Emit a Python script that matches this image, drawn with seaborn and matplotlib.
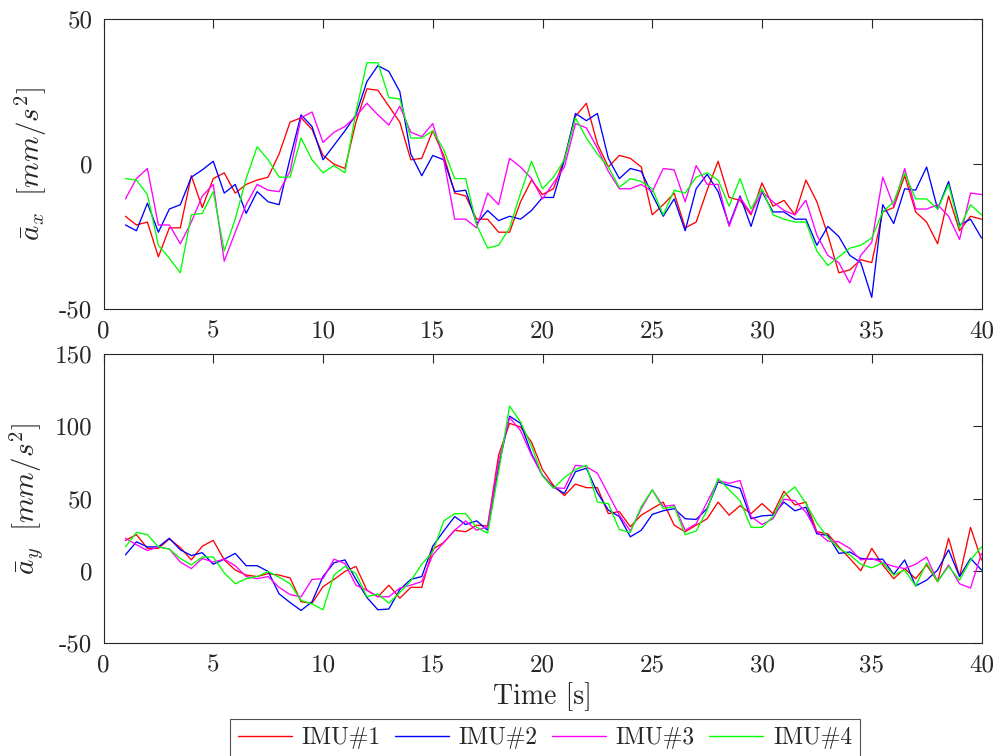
import numpy as np
import pandas as pd
import matplotlib
matplotlib.use("Agg")
import matplotlib.pyplot as plt
from matplotlib.lines import Line2D
import seaborn as sns

# ---------------- data ----------------
time_s = np.arange(1.0, 40.01, 0.5)
imu_names = ["IMU#1", "IMU#2", "IMU#3", "IMU#4"]

ax_imu1 = [-18, -21, -20, -32, -22, -22, -4, -15, -5, -3,
           -10, -7, -5.5, -4.5, 3.5, 14.5, 16, 12, 3, 0,
           -1.5, 14.5, 26, 25.5, 20, 14.5, 1.5, 2, 11.5, 3,
           -10, -11, -19, -19, -23.5, -23.5, -13, -5.5, -10.5, -8.5,
           2, 16.5, 21, 7, -1, 3, 2, -1, -17.5, -14,
           -10, -22, -20, -9, 1, -11.5, -12.5, -17.5, -6.5, -14.5,
           -12.5, -17.5, -5.5, -13, -24.5, -37.5, -36.5, -33, -34, -16.5,
           -15, -4, -16.5, -20, -27.5, -11, -23, -18, -19]
ax_imu2 = [-21, -23, -13.5, -23.5, -15.5, -14, -4.5, -2, 1, -10,
           -7, -17, -9.5, -13, -14, 2, 17, 13, 1.5, 6.5,
           11.5, 17, 28.5, 34, 32, 25, 3.5, -4, 3, 1.5,
           -9.5, -9, -20.5, -16, -19.5, -18, -19, -16, -11.5, -11.5,
           1.5, 17.5, 15, 17.5, 2, -5, -1.5, -2.5, -10.5, -18,
           -12, -23, -8.5, -3.5, -9.5, -21, -11, -21.5, -9.5, -16.5,
           -16.5, -19, -19, -28, -21.5, -25, -31.5, -34, -46, -14,
           -20.5, -8.5, -9, -1, -15.5, -6, -21, -19, -25.5]
ax_imu3 = [-12, -5, -1.5, -21, -21, -27.5, -20, -11, -7, -33.5,
           -23.5, -14, -7, -9, -9.5, -2.5, 16, 18, 7.5, 11,
           13, 16.5, 21, 17, 13.5, 20, 11, 9.5, 14, 1.5,
           -19, -19, -22, -10, -14, 2, -1, -5, -12, -6.5,
           -1, 14, 12.5, 5.5, -2.5, -8.5, -8.5, -7, -9.5, -1.5,
           -2, -13, -0.5, -7, -7, -21.5, -11.5, -17, -9.5, -13,
           -16, -17.5, -12.5, -24.5, -31.5, -34, -41, -31.5, -27, -4.5,
           -14.5, -1.5, -15.5, -15.5, -14, -18, -26, -10, -10.5]
ax_imu4 = [-5, -5.5, -10.5, -28, -32.5, -37.5, -17.5, -17, -9.5, -30,
           -19, -5, 6, 1.5, -4.5, -4.5, 9, 1.5, -3, -0.5,
           -3, 18, 35, 35, 23, 22.5, 9, 9, 11.5, 5,
           -5, -5, -21, -29, -28, -22, -10, 1, -8.5, -4.5,
           1.5, 16, 9, 3.5, -1, -8, -5, -6, -8.5, -17.5,
           -9, -10, -4.5, -3, -5.5, -14.5, -5, -15.5, -8.5, -17.5,
           -19, -20, -20, -30, -35, -32, -29, -28, -25.5, -16.5,
           -13, -3, -12, -12, -15.5, -7, -22, -14, -17.5]

ay_imu1 = [21, 25, 15.5, 15.5, 22, 16, 7.5, 17, 21, 7.5,
           0.5, -3, -4, -2, -3, -5, -21.5, -22.5, -11, -6,
           -0.5, 3, -13.5, -18, -10, -19, -11.5, -11.5, 15, 19.5,
           28, 27, 31.5, 31, 80, 102, 99.5, 89, 70, 59,
           52, 60, 57.5, 57.5, 39.5, 41, 30.5, 38.5, 43, 47.5,
           31.5, 27, 31.5, 36, 47.5, 38.5, 45, 39.5, 46.5, 39.5,
           55, 45.5, 47.5, 27, 25.5, 16.5, 8.5, 0, 15.5, 4,
           -5.5, 1.5, -5.5, 4, -7.5, 22.5, -4, 30, 7.5]
ay_imu2 = [11, 20, 16.5, 16.5, 22.5, 14.5, 10.5, 12.5, 4.5, 8,
           12, 3.5, 3.5, -0.5, -16, -22, -27.5, -21.5, -4, 5.5,
           7.5, -6, -18.5, -27, -26.5, -13, -6, -4, 17, 27.5,
           37.5, 32, 34.5, 28, 72, 107, 102, 81, 66, 58,
           53.5, 68.5, 71, 54, 42, 37.5, 23.5, 28, 39, 41.5,
           43, 36, 35.5, 43, 61.5, 59, 57, 36, 38, 38.5,
           47.5, 41.5, 44, 25.5, 24.5, 12, 13, 8.5, 8, 8,
           -2.5, 7.5, -10.5, -6.5, 0.5, 14.5, -4, 8.5, 0.5]
ay_imu3 = [22.5, 18, 14, 16.5, 15, 6, 1.5, 8.5, 6, 8,
           3.5, -4, -5.5, -4, -11.5, -16.5, -18, -6, -5.5, 8,
           5, -10, -13.5, -18, -18, -12, -10, -7.5, 11, 19.5,
           28, 34.5, 28, 30.5, 75.5, 106, 97, 80, 66, 57.5,
           57, 73, 72, 67.5, 53, 38.5, 27.5, 43, 56, 44.5,
           45.5, 28, 32.5, 47.5, 62.5, 60.5, 62.5, 37.5, 32, 36,
           49.5, 48.5, 40.5, 27, 20.5, 20, 15.5, 7.5, 8.5, 5.5,
           3, 1.5, 4.5, 9.5, -7.5, 4, -9, -12, 12]
ay_imu4 = [16.5, 26.5, 25, 16.5, 15, 8.5, 4, 9.5, 9.5, -1.5,
           -9, -5.5, -4, -0.5, -4.5, -9, -20.5, -23, -27, -3,
           3, -2, -18, -16, -22.5, -15, -7, 4.5, 13, 34.5,
           39.5, 39.5, 30, 26, 68.5, 114, 103, 86, 65.5, 57,
           64.5, 70, 73, 47.5, 46.5, 28.5, 26.5, 44.5, 56, 43,
           44.5, 25, 27.5, 42, 64, 56, 48.5, 30, 30, 37.5,
           52, 58, 46.5, 33, 23, 15.5, 11, 4.5, 2, 5.5,
           -3, 0.5, -10.5, 5.5, -7.5, 3, -6.5, 7.5, 16.5]

x_ticks = [0, 5, 10, 15, 20, 25, 30, 35, 40]
ax_ticks = [-50, 0, 50]
ay_ticks = [-50, 0, 50, 100, 150]

# ---------------- style ----------------
sns.set_style("white")
plt.rcParams.update({
    "font.family": ["cmr10", "DejaVu Serif"],
    "mathtext.fontset": "cm",
    "axes.unicode_minus": False,
    "axes.formatter.use_mathtext": False,
})
palette = {"IMU#1": "#ff0000", "IMU#2": "#0000ff",
           "IMU#3": "#ff00ff", "IMU#4": "#00ff00"}
dark = "#262626"


def long_frame(series):
    return pd.DataFrame({
        "t": np.tile(time_s, len(series)),
        "v": np.concatenate([np.asarray(s, float) for s in series]),
        "imu": np.repeat(imu_names, len(time_s)),
    })


fig = plt.figure(figsize=(10, 7.56), dpi=100)
ax1 = fig.add_axes([0.1035, 0.5913, 0.878, 0.3832])
ax2 = fig.add_axes([0.1035, 0.1495, 0.878, 0.3822])

sns.lineplot(data=long_frame([ax_imu1, ax_imu2, ax_imu3, ax_imu4]),
             x="t", y="v", hue="imu", palette=palette, ax=ax1,
             linewidth=0.95, legend=False, estimator=None, sort=False)
sns.lineplot(data=long_frame([ay_imu1, ay_imu2, ay_imu3, ay_imu4]),
             x="t", y="v", hue="imu", palette=palette, ax=ax2,
             linewidth=0.95, legend=False, estimator=None, sort=False)

for ax, yt in ((ax1, ax_ticks), (ax2, ay_ticks)):
    ax.set_xlim(0, 40)
    ax.set_ylim(yt[0], yt[-1])
    ax.set_xticks(x_ticks)
    ax.set_yticks(yt)
    ax.tick_params(direction="in", length=6.3, width=0.8, colors=dark,
                   top=True, right=True, labelsize=18, pad=8)
    for s in ax.spines.values():
        s.set_visible(True)
        s.set_color(dark)
        s.set_linewidth(0.8)
    ax.set_xlabel("")

ax1.set_ylabel(r"$\bar{a}_x\;\ [mm/s^2]$", fontsize=21, color=dark, labelpad=7)
ax2.set_ylabel(r"$\bar{a}_y\;\ [mm/s^2]$", fontsize=21, color=dark, labelpad=7)
ax2.set_xlabel("Time [s]", fontsize=20, color=dark, labelpad=4)

handles = [Line2D([0], [0], color=palette[n], lw=1.0) for n in imu_names]
leg = fig.legend(handles, imu_names, loc="upper center",
                 bbox_to_anchor=(0.545, 1 - 719 / 756), ncol=4,
                 frameon=True, fancybox=False, fontsize=17,
                 handlelength=2.3, handletextpad=0.4, columnspacing=0.6,
                 borderpad=0.35, borderaxespad=0.0)
leg.get_frame().set_edgecolor(dark)
leg.get_frame().set_linewidth(0.8)
for txt in leg.get_texts():
    txt.set_color(dark)

fig.savefig("out.png", dpi=100)
